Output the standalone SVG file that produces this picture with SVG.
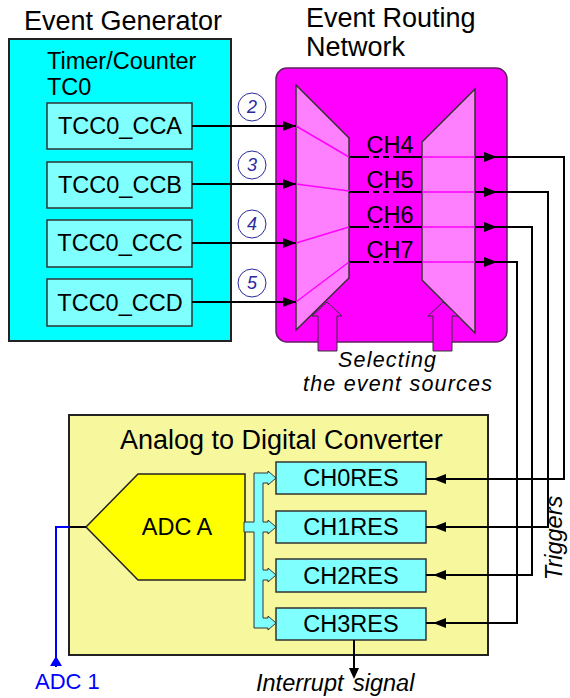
<svg xmlns="http://www.w3.org/2000/svg" width="570" height="698" viewBox="0 0 570 698">
<style>
text{font-family:"Liberation Sans",Arial,sans-serif;fill:#000}
.title{font-size:27px}
.lbl{font-size:23.5px}
.mid{text-anchor:middle}
.it{font-style:italic}
.box{stroke:#333;stroke-width:1.5}
.wire{stroke:#000;stroke-width:2;fill:none}
.pink{stroke:#FF00FF;stroke-width:1.5;fill:none}
.num{font-size:18px;font-style:italic;fill:#2A2AA0;text-anchor:middle}
.circ{fill:#fff;stroke:#2A2AA0;stroke-width:1}
.sel{font-size:21.5px;font-style:italic;letter-spacing:1.2px}
</style>
<defs>
<polygon id="ar" points="0,0 -13,-5 -13,5" fill="#000"/>
</defs>

<g id="event-generator">
<text class="title" x="24" y="30">Event Generator</text>
<rect x="9" y="39" width="222" height="302" fill="#00FFFF" stroke="#222" stroke-width="2"/>
<text class="lbl" x="47" y="69">Timer/Counter</text>
<text class="lbl" x="47" y="95">TC0</text>
</g>
<g id="tcc0-cca"><rect class="box" x="47" y="103" width="145" height="46" fill="#80FFFF"/><text class="lbl mid" x="120" y="134">TCC0_CCA</text></g>
<g id="tcc0-ccb"><rect class="box" x="47" y="162" width="145" height="46" fill="#80FFFF"/><text class="lbl mid" x="120" y="193">TCC0_CCB</text></g>
<g id="tcc0-ccc"><rect class="box" x="47" y="220" width="145" height="47" fill="#80FFFF"/><text class="lbl mid" x="120" y="251">TCC0_CCC</text></g>
<g id="tcc0-ccd"><rect class="box" x="47" y="279" width="145" height="47" fill="#80FFFF"/><text class="lbl mid" x="120" y="311">TCC0_CCD</text></g>

<g id="event-routing-network">
<text class="title" x="306" y="27">Event Routing</text>
<text class="title" x="306" y="56">Network</text>
<rect x="276" y="68" width="231" height="274" rx="11" fill="#FF00FF" stroke="#602060" stroke-width="1.5"/>
<polygon points="296,85 349,138 349,278 296,330" fill="#FF80FF" stroke="#333" stroke-width="1.5"/>
<polygon points="422,142 475,89 475,333 422,280" fill="#FF80FF" stroke="#333" stroke-width="1.5"/>
<path class="pink" d="M296,126 L349,157 M296,184 L349,191 M296,243 L349,227 M296,302 L349,262"/>
<path class="pink" d="M422,157 H475 M422,192 H475 M422,227 H475 M422,262 H475"/>
<g stroke="#000" stroke-width="2" stroke-dasharray="20 4 6 4 6 4 40">
<line x1="349" y1="157" x2="422" y2="157"/>
<line x1="349" y1="192" x2="422" y2="192"/>
<line x1="349" y1="227" x2="422" y2="227"/>
<line x1="349" y1="262" x2="422" y2="262"/>
</g>
<text class="lbl mid" x="390" y="153">CH4</text>
<text class="lbl mid" x="390" y="188">CH5</text>
<text class="lbl mid" x="390" y="223">CH6</text>
<text class="lbl mid" x="390" y="258">CH7</text>
<polygon points="327,302 342,316 337,316 337,351 318,351 318,316 312,316" fill="#FF00FF" stroke="#333" stroke-width="1"/>
<polygon points="443,302 458,316 452,316 452,351 433,351 433,316 428,316" fill="#FF00FF" stroke="#333" stroke-width="1"/>
<text class="sel" x="338" y="367">Selecting</text>
<text class="sel" x="303" y="391">the event sources</text>
</g>

<g id="adc">
<rect x="69" y="415" width="419" height="240" fill="#F7F79E" stroke="#222" stroke-width="2"/>
<text class="title" x="120" y="449">Analog to Digital Converter</text>
</g>
<g id="adc-a">
<polygon points="86,527 138,474 245,474 245,580 138,580" fill="#FFFF00" stroke="#222" stroke-width="1.5"/>
<text class="lbl mid" x="177" y="535">ADC A</text>
</g>
<g id="ch0res"><rect class="box" x="276" y="462" width="150" height="32" fill="#80FFFF"/><text class="lbl mid" x="351" y="486">CH0RES</text></g>
<g id="ch1res"><rect class="box" x="276" y="511" width="150" height="32" fill="#80FFFF"/><text class="lbl mid" x="351" y="535">CH1RES</text></g>
<g id="ch2res"><rect class="box" x="276" y="559" width="150" height="33" fill="#80FFFF"/><text class="lbl mid" x="351" y="584">CH2RES</text></g>
<g id="ch3res"><rect class="box" x="276" y="608" width="150" height="32" fill="#80FFFF"/><text class="lbl mid" x="351" y="632">CH3RES</text></g>

<g id="connectors">
<circle class="circ" cx="252" cy="107" r="14"/><text class="num" x="252" y="113">2</text>
<circle class="circ" cx="252" cy="165" r="14"/><text class="num" x="252" y="171">3</text>
<circle class="circ" cx="252" cy="224" r="14"/><text class="num" x="252" y="230">4</text>
<circle class="circ" cx="252" cy="283" r="14"/><text class="num" x="252" y="289">5</text>
<path class="wire" d="M192,126 H296 M192,184 H296 M192,243 H296 M192,302 H296"/>
<use href="#ar" x="296" y="126"/>
<use href="#ar" x="296" y="184"/>
<use href="#ar" x="296" y="243"/>
<use href="#ar" x="296" y="302"/>
<path class="wire" d="M475,157 H564 V479 H426 M475,192 H548 V527 H426 M475,227 H532 V575 H426 M475,262 H517 V623 H426"/>
<use href="#ar" x="497" y="157"/>
<use href="#ar" x="497" y="192"/>
<use href="#ar" x="497" y="227"/>
<use href="#ar" x="497" y="262"/>
<use href="#ar" transform="translate(433,479) rotate(180)"/>
<use href="#ar" transform="translate(433,527) rotate(180)"/>
<use href="#ar" transform="translate(433,575) rotate(180)"/>
<use href="#ar" transform="translate(433,623) rotate(180)"/>
<path d="M254,473 H268 V471 L276,478 L268,485 V483 H263 V522 H268 V520 L276,527 L268,534 V532 H263 V570 H268 V568 L276,575 L268,582 V580 H263 V618 H268 V616 L276,623 L268,630 V628 H254 V532 H244 V522 H254 Z" fill="#80FFFF" stroke="#333" stroke-width="1"/>
<line x1="69" y1="527" x2="86" y2="527" stroke="#000" stroke-width="2"/>
<path d="M69,527 H56 V667" stroke="#0000FF" stroke-width="2" fill="none"/>
<polygon points="56,656 62,666 50,666" fill="#0000FF"/>
<line x1="354" y1="640" x2="354" y2="672" stroke="#000" stroke-width="2"/>
<polygon points="354,679 349,668 359,668" fill="#000"/>
</g>
<text class="lbl" x="35" y="689" style="fill:#0000FF;font-size:22px">ADC 1</text>
<text class="lbl it" x="256" y="691">Interrupt</text>
<text class="lbl it" x="353" y="691">signal</text>
<text class="lbl it mid" transform="translate(562,538) rotate(-90)">Triggers</text>
</svg>
